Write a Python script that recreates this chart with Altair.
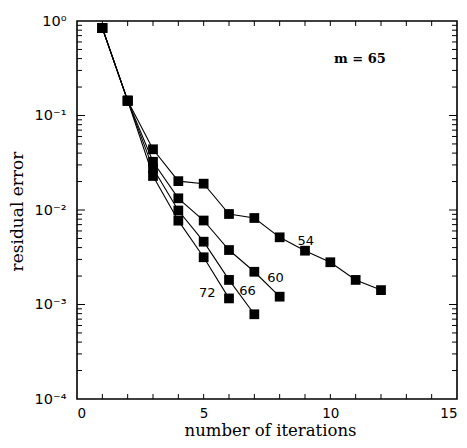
import altair as alt
import pandas as pd

# ---- data ----
iters_54 = [1, 2, 3, 4, 5, 6, 7, 8, 9, 10, 11, 12]
resid_54 = [0.843, 0.1435, 0.0439, 0.0202, 0.0190, 0.00907, 0.00823, 0.00514, 0.00371, 0.00280, 0.00182, 0.00142]
iters_60 = [1, 2, 3, 4, 5, 6, 7, 8]
resid_60 = [0.843, 0.1435, 0.0324, 0.0133, 0.00774, 0.00377, 0.00222, 0.00121]
iters_66 = [1, 2, 3, 4, 5, 6, 7]
resid_66 = [0.843, 0.1435, 0.0276, 0.00988, 0.00462, 0.00182, 0.000788]
iters_72 = [1, 2, 3, 4, 5, 6]
resid_72 = [0.843, 0.1435, 0.0229, 0.00771, 0.00316, 0.00116]

label_text = ["54", "60", "66", "72"]
label_x = [9.03, 7.84, 6.73, 5.14]
label_y = [0.00473, 0.00189, 0.00140, 0.00131]

note_text = ["m = 65"]
note_x = [11.17]
note_y = [0.40]

x_tick_values = [0, 5, 10, 15]
y_tick_values = [1, 0.1, 0.01, 0.001, 0.0001]
x_minor = list(range(1, 15))
y_major = [0.1, 0.01, 0.001]
y_minor = [k * 10.0 ** e for e in range(-4, 0) for k in range(2, 10)]

# ---- tables ----
rows = []
for name, xs, ys in [("54", iters_54, resid_54), ("60", iters_60, resid_60),
                     ("66", iters_66, resid_66), ("72", iters_72, resid_72)]:
    for a, b in zip(xs, ys):
        rows.append({"series": name, "x": a, "y": b})
df = pd.DataFrame(rows)
labels_df = pd.DataFrame({"text": label_text, "x": label_x, "y": label_y})
note_df = pd.DataFrame({"text": note_text, "x": note_x, "y": note_y})
xt_df = pd.DataFrame({"x": x_minor})
ymaj_df = pd.DataFrame({"y": y_major})
ymin_df = pd.DataFrame({"y": y_minor})

W, H = 380, 378
title_font = "DejaVu Serif"
label_font = "DejaVu Sans"

xscale = alt.Scale(domain=[0, 15], nice=False, zero=False)
yscale = alt.Scale(type="log", domain=[0.0001, 1], nice=False)
xaxis = alt.Axis(values=x_tick_values, ticks=False, domain=False, grid=False,
                 title="number of iterations", titleFont=title_font, titleFontSize=16.5,
                 titleFontWeight="normal", titleColor="black",
                 titleX=W / 2 + 3, titleY=36, titleBaseline="alphabetic", titleAlign="center",
                 labelFont=label_font, labelFontSize=13.5, labelColor="black", labelPadding=7)
yaxis = alt.Axis(values=y_tick_values, ticks=False, domain=False, grid=False,
                 labelExpr="datum.value > 0.5 ? '10⁰' : datum.value > 0.05 ? '10⁻¹' : datum.value > 0.005 ? '10⁻²' : datum.value > 0.0005 ? '10⁻³' : '10⁻⁴'",
                 title="residual error", titleFont=title_font, titleFontSize=17,
                 titleFontWeight="normal", titleColor="black",
                 titleX=-55, titleY=H / 2 + 1, titleAngle=270, titleBaseline="alphabetic",
                 titleAlign="center",
                 labelFont=label_font, labelFontSize=14.5, labelColor="black", labelPadding=11)

X = alt.X("x:Q", scale=xscale, axis=xaxis)
Y = alt.Y("y:Q", scale=yscale, axis=yaxis)

lines = alt.Chart(df).mark_line(color="black", strokeWidth=1.1).encode(
    x=X, y=Y, detail="series:N", order="x:Q")
points = alt.Chart(df).mark_point(shape="square", filled=True, color="black",
                                  opacity=1, size=95).encode(x=X, y=Y)
labels = alt.Chart(labels_df).mark_text(font=label_font, fontSize=13, color="black",
                                        align="center", baseline="middle").encode(
    x=X, y=Y, text="text:N")
note = alt.Chart(note_df).mark_text(font=title_font, fontSize=13, fontWeight="bold",
                                    color="black", align="center", baseline="middle").encode(
    x=X, y=Y, text="text:N")

# inward tick marks (bottom, top, left, right)
xt_bottom = alt.Chart(xt_df).mark_rule(color="black", strokeWidth=1).encode(
    x=X, y=alt.value(H), y2=alt.value(H - 5))
xt_top = alt.Chart(xt_df).mark_rule(color="black", strokeWidth=1).encode(
    x=X, y=alt.value(0), y2=alt.value(5))
ymaj_left = alt.Chart(ymaj_df).mark_rule(color="black", strokeWidth=1).encode(
    y=Y, x=alt.value(0), x2=alt.value(8))
ymaj_right = alt.Chart(ymaj_df).mark_rule(color="black", strokeWidth=1).encode(
    y=Y, x=alt.value(W), x2=alt.value(W - 8))
ymin_left = alt.Chart(ymin_df).mark_rule(color="black", strokeWidth=1).encode(
    y=Y, x=alt.value(0), x2=alt.value(5))
ymin_right = alt.Chart(ymin_df).mark_rule(color="black", strokeWidth=1).encode(
    y=Y, x=alt.value(W), x2=alt.value(W - 5))

chart = alt.layer(
    xt_bottom, xt_top, ymaj_left, ymaj_right, ymin_left, ymin_right,
    lines, points, labels, note
).properties(
    width=W, height=H,
    autosize=alt.AutoSizeParams(type="none"),
    padding={"left": 69, "top": 13, "right": 2, "bottom": 41},
    background="white",
).configure_view(stroke="black", strokeWidth=1.6)

chart.save("out.html", embed_options={"renderer": "svg", "actions": False})
